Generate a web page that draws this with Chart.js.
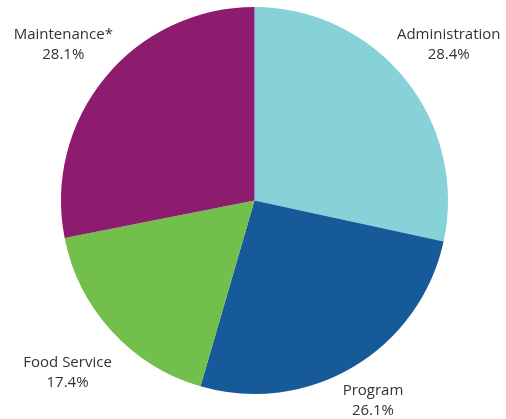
<!DOCTYPE html>
<html>
<head>
<meta charset="utf-8">
<script src="https://cdn.jsdelivr.net/npm/chart.js@4"></script>
<style>
  html, body { margin: 0; padding: 0; background: #fff; }
  #wrap { width: 506px; height: 419px; position: relative; }
</style>
</head>
<body>
<div id="wrap"><canvas id="pieChart"></canvas></div>
<script>
const categories = ['Administration', 'Program', 'Food Service', 'Maintenance*'];
const shares = [28.4, 26.1, 17.4, 28.1];
const sliceColors = ['#87D1D9', '#175A9A', '#72BF4C', '#8E1C6E'];
// how far out (px past the rim) each label sits
const labelGap = [56, 38, 60, 54];

// labels drawn outside the pie along each slice's middle angle
const outsideLabels = {
    id: 'outsideLabels',
    afterDraw(chart) {
        const c = chart.ctx;
        const meta = chart.getDatasetMeta(0);
        c.save();
        c.font = '15px "Open Sans", sans-serif';
        c.fillStyle = '#333333';
        c.textAlign = 'center';
        c.textBaseline = 'middle';
        meta.data.forEach(function(arc, i) {
            const p = arc.getProps(['x', 'y', 'startAngle', 'endAngle', 'outerRadius'], true);
            const mid = (p.startAngle + p.endAngle) / 2;
            const d = p.outerRadius + labelGap[i];
            const x = p.x + Math.cos(mid) * d;
            const y = p.y + Math.sin(mid) * d;
            c.fillText(categories[i], x, y - 9);
            c.fillText(shares[i].toFixed(1) + '%', x, y + 11);
        });
        c.restore();
    }
};

const ctxPie = document.getElementById('pieChart').getContext('2d');
const pieChart = new Chart(ctxPie, {
    type: 'pie',
    data: {
        labels: categories,
        datasets: [{
            data: shares,
            backgroundColor: sliceColors,
            borderWidth: 0,
            hoverOffset: 0
        }]
    },
    options: {
        responsive: true,
        maintainAspectRatio: false,
        animation: false,
        layout: {
            padding: { top: 7, bottom: 25, left: 3, right: 0 }
        },
        plugins: {
            legend: { display: false },
            tooltip: { enabled: false }
        }
    },
    plugins: [outsideLabels]
});
</script>
</body>
</html>
